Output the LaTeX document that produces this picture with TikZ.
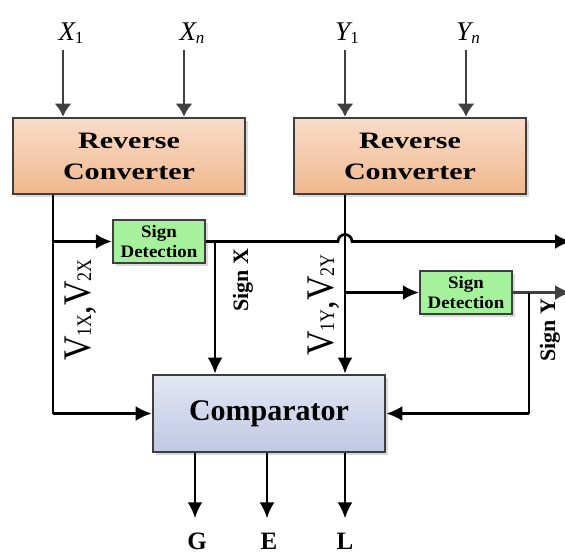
\documentclass[tikz,border=0pt]{standalone}
\usepackage{fontspec}
\usepackage{graphicx}
\setmainfont{Liberation Serif}
\usetikzlibrary{arrows.meta,shadows,calc}

\definecolor{rcTop}{RGB}{248,220,200}
\definecolor{rcBot}{RGB}{240,184,142}
\definecolor{cmpTop}{RGB}{226,231,243}
\definecolor{cmpBot}{RGB}{192,200,228}
\definecolor{sdFill}{RGB}{166,242,156}
\definecolor{edge}{RGB}{62,62,62}
\definecolor{wire}{RGB}{64,64,64}

\newcommand{\widen}[2]{\scalebox{#1}[1]{#2}}

\tikzset{
  blockbase/.style={draw=edge, line width=2.6pt, inner sep=0pt,
    drop shadow={shadow xshift=2.5pt, shadow yshift=-2.5pt, opacity=0.25, fill=black!60}},
  converter/.style={blockbase, minimum width=232pt, minimum height=76pt,
    top color=rcTop, bottom color=rcBot, align=center,
    font=\bfseries\fontsize{23.5}{31}\selectfont},
  signbox/.style={blockbase, line width=2.2pt, minimum width=92pt, minimum height=43pt,
    fill=sdFill, align=center, font=\bfseries\fontsize{17.5}{20}\selectfont},
  compbox/.style={blockbase, minimum width=232pt, minimum height=77pt,
    top color=cmpTop, bottom color=cmpBot, font=\bfseries\fontsize{30}{32}\selectfont},
  inarrow/.style={draw=wire, line width=2.6pt, -{Latex[length=13pt,width=17pt]}},
  sig/.style={draw=black, line width=2.7pt},
  sigarrow/.style={sig, -{Latex[length=16pt,width=15pt]}},
  inlabel/.style={font=\fontsize{27}{27}\selectfont, anchor=base, inner sep=0pt},
  outlabel/.style={font=\bfseries\fontsize{25}{25}\selectfont, anchor=base, inner sep=0pt},
  sidelabel/.style={font=\bfseries\fontsize{22}{22}\selectfont, rotate=90, inner sep=0pt},
  vlabel/.style={rotate=90, inner sep=0pt},
}

\newcommand{\insub}[2]{{\itshape #1}\raisebox{-3pt}{\fontsize{17}{17}\selectfont #2}}
\newcommand{\vpair}[2]{\scalebox{1}[1.15]{\fontsize{34}{34}\selectfont V\raisebox{-1pt}{\fontsize{18}{18}\selectfont #1},V\raisebox{-1pt}{\fontsize{18}{18}\selectfont #2}}}

\begin{document}
\begin{tikzpicture}[x=1pt,y=-1pt]
  \useasboundingbox (0,0) rectangle (565,554);

  % blocks
  \node[converter] (rcx) at (129,156) {\widen{1.28}{Reverse}\\\widen{1.28}{Converter}};
  \node[converter] (rcy) at (410,156) {\widen{1.28}{Reverse}\\\widen{1.28}{Converter}};
  \node[signbox] (sdx) at (159,241.5) {\widen{1.08}{Sign}\\\widen{1.08}{Detection}};
  \node[signbox] (sdy) at (466,292.5) {\widen{1.08}{Sign}\\\widen{1.08}{Detection}};
  \node[compbox] (comp) at (269,413.5) {Comparator};

  % inputs
  \node[inlabel] (x1) at (71,40) {\insub{X}{1}};
  \node[inlabel] (xn) at (192,40) {\insub{X}{\itshape n}};
  \node[inlabel] (y1) at (347,40) {\insub{Y}{1}};
  \node[inlabel] (yn) at (468,40) {\insub{Y}{\itshape n}};
  \coordinate (x1s) at (63,50);
  \coordinate (xns) at (184,50);
  \coordinate (y1s) at (345,50);
  \coordinate (yns) at (466,50);
  \draw[inarrow] (x1s) -- (x1s |- rcx.north);
  \draw[inarrow] (xns) -- (xns |- rcx.north);
  \draw[inarrow] (y1s) -- (y1s |- rcy.north);
  \draw[inarrow] (yns) -- (yns |- rcy.north);

  % X path
  \coordinate (lx) at (53,0);
  \coordinate (jx) at (53,241.5);
  \draw[sig] (lx |- rcx.south) -- (lx |- comp.west);
  \draw[sigarrow] (lx |- comp.west) -- (comp.west);
  \draw[sigarrow] (jx) -- (sdx.west);

  % sign X output, hopping over the Y line
  \coordinate (sxdrop) at (215,241.5);
  \coordinate (hopl) at (338,241.5);
  \coordinate (edgex) at (571,241.5);
  \draw[sigarrow] (sdx.east) -- (hopl) arc[start angle=180, end angle=0, radius=7pt] -- (edgex);
  \draw[sigarrow] (sxdrop) -- (sxdrop |- comp.north);

  % Y path
  \coordinate (ly) at (345,0);
  \coordinate (jy) at (345,292.5);
  \draw[sigarrow] (ly |- rcy.south) -- (ly |- comp.north);
  \draw[sigarrow] (jy) -- (sdy.west);

  % sign Y output
  \coordinate (sydrop) at (529,292.5);
  \coordinate (edgey) at (571,292.5);
  \draw[draw=wire, line width=2.6pt, -{Latex[length=16pt,width=15pt]}] (sdy.east) -- (edgey);
  \draw[sig] (sydrop) -- (sydrop |- comp.east);
  \draw[sigarrow] (sydrop |- comp.east) -- (comp.east);

  % outputs
  \coordinate (og) at (195,0);
  \coordinate (oe) at (267,0);
  \coordinate (ol) at (345,0);
  \node[outlabel] (g) at (197,549) {G};
  \node[outlabel] (e) at (269,549) {E};
  \node[outlabel] (l) at (345,549) {L};
  \draw[sigarrow] (og |- comp.south) -- ($(og |- g.north)+(0,-14)$);
  \draw[sigarrow] (oe |- comp.south) -- ($(oe |- e.north)+(0,-14)$);
  \draw[sigarrow] (ol |- comp.south) -- ($(ol |- l.north)+(0,-14)$);

  % labels along wires
  \node[sidelabel, anchor=base] (signx) at (248,280) {Sign X};
  \node[sidelabel, anchor=base] (signy) at (555,330) {Sign Y};
  \node[vlabel, anchor=base] (vx) at (90,310) {\vpair{1X}{2X}};
  \node[vlabel, anchor=base] (vy) at (333,305) {\vpair{1Y}{2Y}};
\end{tikzpicture}
\end{document}
